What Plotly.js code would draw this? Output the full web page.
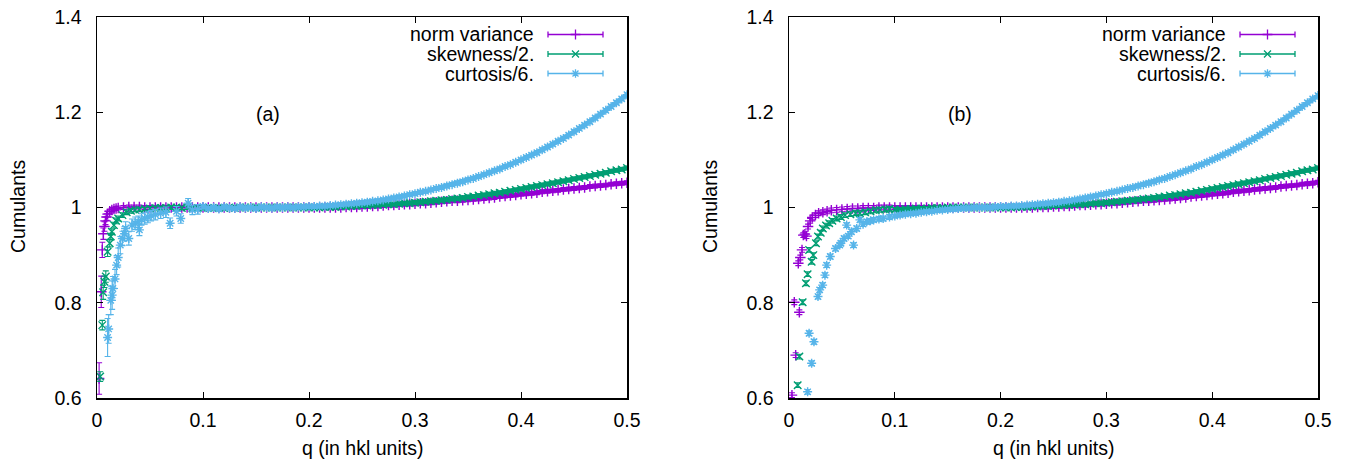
<!DOCTYPE html>
<html>
<head>
<meta charset="utf-8">
<script src="https://cdn.plot.ly/plotly-3.0.1.min.js"></script>
<style>html,body{margin:0;padding:0;background:#fff;}#chart{width:1350px;height:459px;}</style>
</head>
<body>
<div id="chart"></div>
<script>
// ---------- data ----------
const seriesNames = ["norm variance", "skewness/2.", "curtosis/6."];
const seriesColors = ["#9400d3", "#009e73", "#56b4e9"];
const panelLabels = ["(a)", "(b)"];
const xTickVals = [0, 0.1, 0.2, 0.3, 0.4, 0.5];
const xTickText = ["0", "0.1", "0.2", "0.3", "0.4", "0.5"];
const yTickVals = [0.6, 0.8, 1.0, 1.2, 1.4];
const yTickText = ["0.6", "0.8", "1", "1.2", "1.4"];

// shared q grid above 0.1
const qHi = [0.100,0.105,0.110,0.115,0.120,0.125,0.130,0.135,0.140,0.145,
0.150,0.155,0.160,0.165,0.170,0.175,0.180,0.185,0.190,0.195,
0.200,0.205,0.210,0.215,0.220,0.225,0.230,0.235,0.240,0.245,
0.250,0.255,0.260,0.265,0.270,0.275,0.280,0.285,0.290,0.295,
0.300,0.305,0.310,0.315,0.320,0.325,0.330,0.335,0.340,0.345,
0.350,0.355,0.360,0.365,0.370,0.375,0.380,0.385,0.390,0.395,
0.400,0.405,0.410,0.415,0.420,0.425,0.430,0.435,0.440,0.445,
0.450,0.455,0.460,0.465,0.470,0.475,0.480,0.485,0.490,0.495,
0.500];
const errHi = 0.004;

// ---- panel (a) ----
const nvLoQA = [0.002,0.004,0.005,0.006,0.007,0.008,0.009,0.010,0.012,0.014,0.016,0.018,0.020,0.025,0.030,0.035,0.040,0.045,0.050,0.055,0.060,0.065,0.070,0.075,0.080,0.085,0.090,0.095];
const nvLoA  = [0.641,0.823,0.911,0.945,0.960,0.972,0.980,0.986,0.992,0.995,0.997,0.998,0.999,1.000,1.001,1.001,1.001,1.000,1.000,1.000,1.000,1.000,1.000,1.000,1.000,1.000,1.000,1.000];
const nvLoErrA = [0.033,0.033,0.016,0.012,0.010,0.008,0.007,0.006,0.005,0.005,0.004,0.004,0.004,0.004,0.004,0.004,0.004,0.004,0.004,0.004,0.004,0.004,0.004,0.004,0.004,0.004,0.004,0.004];

const skLoQA = [0.003,0.005,0.0058,0.007,0.0083,0.010,0.012,0.013,0.014,0.016,0.018,0.020,0.024,0.028,0.032,0.036,0.040,0.045,0.050,0.055,0.060,0.065,0.070,0.075,0.080,0.085,0.090,0.095];
const skLoA  = [0.645,0.753,0.822,0.844,0.855,0.907,0.925,0.939,0.949,0.963,0.972,0.977,0.984,0.990,0.993,0.995,0.996,0.997,0.998,0.999,0.999,0.999,1.000,1.000,0.999,1.000,0.999,0.999];
const skLoErrA = [0.010,0.010,0.015,0.012,0.012,0.010,0.008,0.007,0.006,0.006,0.006,0.005,0.005,0.005,0.005,0.004,0.004,0.004,0.004,0.004,0.004,0.004,0.004,0.004,0.004,0.004,0.004,0.004];

const cuLoQA = [0.010,0.011,0.013,0.0143,0.015,0.017,0.0185,0.020,0.022,0.024,0.026,0.027,0.030,0.033,0.036,0.039,0.040,0.042,0.045,0.048,0.051,0.055,0.060,0.065,0.069,0.075,0.079,0.086,0.090,0.095];
const cuLoA  = [0.727,0.745,0.805,0.816,0.830,0.850,0.879,0.895,0.921,0.935,0.945,0.956,0.935,0.963,0.967,0.970,0.953,0.975,0.977,0.980,0.983,0.985,0.988,0.990,0.967,0.992,0.977,1.009,0.995,0.996];
const cuLoErrA = [0.040,0.030,0.030,0.030,0.025,0.020,0.020,0.020,0.018,0.015,0.015,0.014,0.014,0.013,0.013,0.012,0.012,0.012,0.012,0.012,0.011,0.011,0.011,0.011,0.011,0.010,0.010,0.010,0.010,0.010];

const nvHiA = [1.000,1.000,1.000,1.000,1.000,1.000,1.000,1.000,1.000,1.000,
1.000,1.000,1.000,1.000,1.000,1.000,1.000,1.000,1.000,1.000,
1.000,1.000,1.000,1.000,1.000,1.000,1.000,1.001,1.001,1.001,
1.002,1.002,1.003,1.003,1.004,1.005,1.005,1.006,1.007,1.007,
1.008,1.009,1.009,1.010,1.011,1.012,1.013,1.014,1.014,1.015,
1.016,1.017,1.018,1.019,1.020,1.021,1.023,1.024,1.025,1.026,
1.028,1.029,1.030,1.031,1.033,1.034,1.035,1.036,1.038,1.039,
1.040,1.041,1.042,1.044,1.045,1.046,1.047,1.049,1.050,1.051,
1.052];
const skHiA = [0.999,0.999,0.999,0.999,0.999,1.000,0.999,1.000,1.000,1.000,
1.000,1.000,1.000,1.000,1.000,1.000,1.000,1.000,1.000,1.000,
1.000,1.000,1.000,1.001,1.001,1.001,1.002,1.002,1.003,1.003,
1.004,1.004,1.005,1.005,1.006,1.007,1.007,1.008,1.009,1.009,
1.010,1.011,1.012,1.013,1.014,1.015,1.016,1.018,1.019,1.020,
1.022,1.023,1.025,1.026,1.028,1.030,1.031,1.033,1.035,1.037,
1.039,1.041,1.043,1.045,1.047,1.049,1.051,1.053,1.055,1.057,
1.060,1.062,1.064,1.066,1.069,1.071,1.073,1.076,1.078,1.080,
1.083];
const cuHiA = [1.002,0.998,1.000,0.997,1.001,0.999,0.998,1.001,0.999,1.000,
0.998,1.001,1.000,0.999,1.001,1.000,1.001,1.000,1.001,1.001,
1.002,1.002,1.003,1.003,1.004,1.005,1.006,1.007,1.008,1.009,
1.010,1.011,1.013,1.014,1.016,1.018,1.020,1.022,1.024,1.027,
1.029,1.032,1.034,1.037,1.040,1.042,1.045,1.048,1.051,1.054,
1.058,1.061,1.065,1.069,1.073,1.077,1.081,1.086,1.090,1.095,
1.100,1.105,1.110,1.115,1.121,1.127,1.133,1.139,1.145,1.152,
1.159,1.166,1.173,1.180,1.188,1.196,1.204,1.212,1.220,1.228,
1.237];

// ---- panel (b) ----
const nvLoQB = [0.0028,0.0050,0.0063,0.0088,0.0098,0.0107,0.0123,0.0135,0.0150,0.0165,0.018,0.020,0.022,0.025,0.028,0.032,0.036,0.040,0.045,0.050,0.055,0.060,0.065,0.070,0.075,0.080,0.085,0.090,0.095];
const nvLoB  = [0.606,0.801,0.690,0.883,0.780,0.895,0.911,0.942,0.944,0.940,0.960,0.972,0.979,0.984,0.988,0.990,0.992,0.994,0.995,0.996,0.997,0.998,0.998,0.999,0.999,0.999,1.000,1.000,1.000];

const skLoQB = [0.0082,0.0098,0.0129,0.016,0.0176,0.019,0.0214,0.023,0.0255,0.0274,0.030,0.032,0.035,0.038,0.041,0.045,0.049,0.053,0.058,0.063,0.067,0.072,0.077,0.082,0.086,0.091,0.095];
const skLoB  = [0.627,0.687,0.801,0.841,0.860,0.911,0.886,0.900,0.925,0.939,0.947,0.956,0.962,0.967,0.972,0.977,0.980,0.984,0.986,0.988,0.988,0.990,0.992,0.994,0.995,0.996,0.997];

const cuLoQB = [0.0176,0.0190,0.0214,0.0236,0.0274,0.0290,0.0318,0.0340,0.0356,0.0390,0.0440,0.0480,0.0490,0.0520,0.0545,0.0560,0.0590,0.0610,0.0640,0.0670,0.0700,0.0735,0.0770,0.0800,0.0850,0.0890,0.0950];
const cuLoB  = [0.613,0.736,0.673,0.718,0.813,0.827,0.837,0.858,0.879,0.897,0.914,0.921,0.925,0.935,0.963,0.940,0.949,0.921,0.956,0.974,0.965,0.970,0.972,0.974,0.976,0.977,0.980];
const errLoB = 0.005;

const nvHiB = [1.000,1.000,1.000,1.000,1.000,1.000,1.000,1.000,1.000,1.000,
1.000,1.000,1.000,1.000,1.000,1.000,1.000,1.000,1.000,1.000,
1.000,1.000,1.000,1.000,1.000,1.000,1.000,1.001,1.001,1.001,
1.002,1.002,1.003,1.003,1.004,1.005,1.005,1.006,1.007,1.007,
1.008,1.009,1.009,1.010,1.011,1.012,1.013,1.014,1.014,1.015,
1.016,1.017,1.018,1.019,1.020,1.021,1.023,1.024,1.025,1.026,
1.028,1.029,1.030,1.031,1.033,1.034,1.035,1.036,1.038,1.039,
1.040,1.041,1.042,1.044,1.045,1.046,1.047,1.049,1.050,1.051,
1.053];
const skHiB = [0.996,0.996,0.997,0.997,0.998,0.998,0.998,0.999,0.999,0.999,
1.000,1.000,1.000,1.000,1.000,1.000,1.000,1.000,1.000,1.000,
1.000,1.000,1.000,1.001,1.001,1.001,1.002,1.002,1.003,1.003,
1.004,1.004,1.005,1.005,1.006,1.007,1.007,1.008,1.009,1.009,
1.010,1.011,1.012,1.013,1.014,1.015,1.016,1.018,1.019,1.020,
1.022,1.023,1.025,1.026,1.028,1.030,1.031,1.033,1.035,1.037,
1.039,1.041,1.043,1.045,1.047,1.049,1.051,1.053,1.055,1.057,
1.060,1.062,1.064,1.066,1.069,1.071,1.073,1.076,1.078,1.080,
1.083];
const cuHiB = [0.982,0.984,0.986,0.987,0.988,0.990,0.991,0.992,0.994,0.995,
0.996,0.997,0.998,0.999,0.999,1.000,1.000,1.000,1.000,1.001,
1.002,1.002,1.003,1.003,1.004,1.005,1.006,1.007,1.008,1.009,
1.010,1.011,1.013,1.014,1.016,1.018,1.020,1.022,1.024,1.027,
1.029,1.032,1.034,1.037,1.040,1.042,1.045,1.048,1.051,1.054,
1.058,1.061,1.065,1.069,1.073,1.077,1.081,1.086,1.090,1.095,
1.100,1.105,1.110,1.115,1.121,1.127,1.133,1.139,1.145,1.152,
1.159,1.166,1.173,1.180,1.188,1.196,1.204,1.212,1.220,1.228,
1.235];

// ---------- build ----------
const W = 1350, H = 459;
const FONT = "Liberation Sans, Arial, Helvetica, sans-serif";
const FS = 19.5;
const symbols = ["cross-thin", "x-thin", "asterisk"];

function fill(n, v) { return Array.from({length: n}, () => v); }

function mk(q, v, err, k, xa, ya, withLine) {
  return {
    type: "scatter", mode: withLine ? "lines+markers" : "markers", x: q, y: v, xaxis: xa, yaxis: ya,
    showlegend: false, hoverinfo: "skip", cliponaxis: true,
    line: { color: seriesColors[k], width: 4.5 },
    marker: { symbol: symbols[k], size: 7.5, color: seriesColors[k], line: { color: seriesColors[k], width: 1.4 } },
    error_y: { type: "data", array: err, visible: true, color: seriesColors[k], thickness: 1.1, width: 3 }
  };
}

const panelA = [
  { qLo: nvLoQA, vLo: nvLoA, eLo: nvLoErrA, vHi: nvHiA },
  { qLo: skLoQA, vLo: skLoA, eLo: skLoErrA, vHi: skHiA },
  { qLo: cuLoQA, vLo: cuLoA, eLo: cuLoErrA, vHi: cuHiA }
];
const panelB = [
  { qLo: nvLoQB, vLo: nvLoB, eLo: fill(nvLoQB.length, errLoB), vHi: nvHiB },
  { qLo: skLoQB, vLo: skLoB, eLo: fill(skLoQB.length, errLoB), vHi: skHiB },
  { qLo: cuLoQB, vLo: cuLoB, eLo: fill(cuLoQB.length, errLoB), vHi: cuHiB }
];

const traces = [];
[[panelA, "x", "y"], [panelB, "x2", "y2"]].forEach(([pan, xa, ya]) => {
  pan.forEach((s, k) => {
    traces.push(mk(qHi, s.vHi, fill(qHi.length, errHi), k, xa, ya, true));
    traces.push(mk(s.qLo, s.vLo, s.eLo, k, xa, ya, false));
  });
});

// panel geometry (pixels)
const panels = [
  { x0: 97, x1: 627 },
  { x0: 789, x1: 1318 }
];
const yTop = 17, yBot = 398;
const legendRows = [34.5, 54, 73.5];
const legendTextRight = 536;   // relative to panel a
const legendSample = { left: 548, right: 603 };

// legend samples on a pixel overlay axis
seriesNames.forEach((name, k) => {
  const xs = panels.map(p => (legendSample.left + legendSample.right) / 2 + (p.x0 - panels[0].x0));
  traces.push({
    type: "scatter", mode: "markers", x: xs, y: xs.map(() => legendRows[k]),
    xaxis: "x3", yaxis: "y3", showlegend: false, hoverinfo: "skip",
    marker: { symbol: symbols[k], size: 7, color: seriesColors[k], line: { color: seriesColors[k], width: 1.3 } },
    error_x: { type: "constant", value: (legendSample.right - legendSample.left) / 2, visible: true,
               color: seriesColors[k], thickness: 1.3, width: 3 }
  });
});

function axisX(p, anchor) {
  return {
    domain: [p.x0 / W, p.x1 / W], range: [0, 0.5], anchor: anchor,
    tickmode: "array", tickvals: xTickVals, ticktext: xTickText,
    ticks: "inside", ticklen: 6, tickwidth: 1, tickcolor: "#000",
    showline: true, linecolor: "#000", linewidth: 1.5, mirror: "ticks",
    showgrid: false, zeroline: false, ticklabelstandoff: 4,
    tickfont: { family: FONT, size: FS, color: "#000" }, fixedrange: true
  };
}
function axisY(anchor) {
  return {
    domain: [1 - yBot / H, 1 - yTop / H], range: [0.6, 1.4], anchor: anchor,
    tickmode: "array", tickvals: yTickVals, ticktext: yTickText,
    ticks: "inside", ticklen: 6, tickwidth: 1, tickcolor: "#000",
    showline: true, linecolor: "#000", linewidth: 1.5, mirror: "ticks",
    showgrid: false, zeroline: false, ticklabelstandoff: 10,
    tickfont: { family: FONT, size: FS, color: "#000" }, fixedrange: true
  };
}

const annotations = [];
panels.forEach((p, i) => {
  const dx = p.x0 - panels[0].x0;
  const cx = (p.x0 + p.x1) / 2;
  annotations.push({ xref: "paper", yref: "paper", x: cx / W, y: 1 - 448 / H, text: "q (in hkl units)",
    showarrow: false, xanchor: "center", yanchor: "middle", font: { family: FONT, size: FS, color: "#000" } });
  annotations.push({ xref: "paper", yref: "paper", x: (18 + dx) / W, y: 1 - 207 / H, text: "Cumulants", textangle: -90,
    showarrow: false, xanchor: "center", yanchor: "middle", font: { family: FONT, size: FS, color: "#000" } });
  annotations.push({ xref: "paper", yref: "paper", x: (268 + dx) / W, y: 1 - 114 / H, text: panelLabels[i],
    showarrow: false, xanchor: "center", yanchor: "middle", font: { family: FONT, size: FS, color: "#000" } });
  seriesNames.forEach((name, k) => {
    annotations.push({ xref: "paper", yref: "paper", x: (legendTextRight + dx) / W, y: 1 - legendRows[k] / H, text: name,
      showarrow: false, xanchor: "right", yanchor: "middle", font: { family: FONT, size: FS, color: "#000" } });
  });
});

const layout = {
  width: W, height: H, margin: { l: 0, r: 0, t: 0, b: 0 },
  paper_bgcolor: "#fff", plot_bgcolor: "rgba(0,0,0,0)",
  showlegend: false,
  xaxis: axisX(panels[0], "y"), yaxis: axisY("x"),
  xaxis2: axisX(panels[1], "y2"), yaxis2: axisY("x2"),
  xaxis3: { domain: [0, 1], range: [0, W], visible: false, fixedrange: true, anchor: "y3" },
  yaxis3: { domain: [0, 1], range: [H, 0], visible: false, fixedrange: true, anchor: "x3" },
  annotations: annotations
};

Plotly.newPlot("chart", traces, layout, { staticPlot: true, displayModeBar: false });
</script>
</body>
</html>
